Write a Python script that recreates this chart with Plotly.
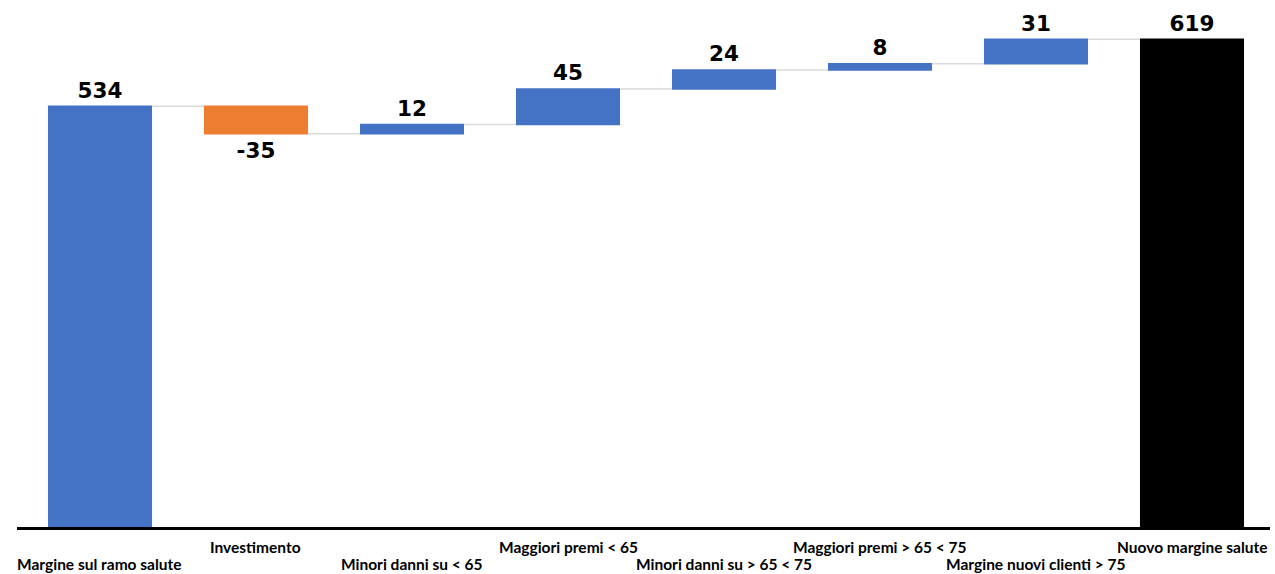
import plotly.graph_objects as go

# Waterfall of the health-branch margin
categories = [
    "Margine sul ramo salute",
    "Investimento",
    "Minori danni su < 65",
    "Maggiori premi < 65",
    "Minori danni su > 65 < 75",
    "Maggiori premi > 65 < 75",
    "Margine nuovi clienti > 75",
    "Nuovo margine salute",
]
values = [534, -35, 12, 45, 24, 8, 31, 619]
measures = ["relative", "relative", "relative", "relative",
            "relative", "relative", "relative", "total"]

BLUE = "#4472C4"
ORANGE = "#ED7D31"
BLACK = "#000000"

fig = go.Figure(
    go.Waterfall(
        x=categories,
        y=values,
        measure=measures,
        text=[str(v) for v in values],
        textposition="outside",
        textfont=dict(family="DejaVu Sans", size=21.5, color="black", weight="bold"),
        increasing=dict(marker=dict(color=BLUE)),
        decreasing=dict(marker=dict(color=ORANGE)),
        totals=dict(marker=dict(color=BLACK)),
        connector=dict(mode="between", line=dict(color="#d9d9d9", width=1.5)),
        cliponaxis=False,
    )
)

# Category labels staggered on two rows
for i, name in enumerate(categories):
    fig.add_annotation(
        x=name, xref="x", y=0, yref="paper",
        text=name, showarrow=False,
        yanchor="middle", xanchor="center",
        yshift=-20 if i % 2 == 1 else -37,
        font=dict(family="Lato", size=15.5, color="black", weight="bold"),
    )

fig.update_layout(
    width=1275, height=574,
    margin=dict(l=17, r=5, t=7, b=47),
    paper_bgcolor="white",
    plot_bgcolor="white",
    showlegend=False,
    waterfallgap=0.333,
    xaxis=dict(
        range=[-0.532, 7.5],
        showticklabels=False,
        showgrid=False,
        showline=True,
        linecolor="black",
        linewidth=3,
        ticks="",
        zeroline=False,
    ),
    yaxis=dict(
        range=[0, 660],
        visible=False,
        showgrid=False,
        zeroline=False,
    ),
)

fig.write_html("out.html")
